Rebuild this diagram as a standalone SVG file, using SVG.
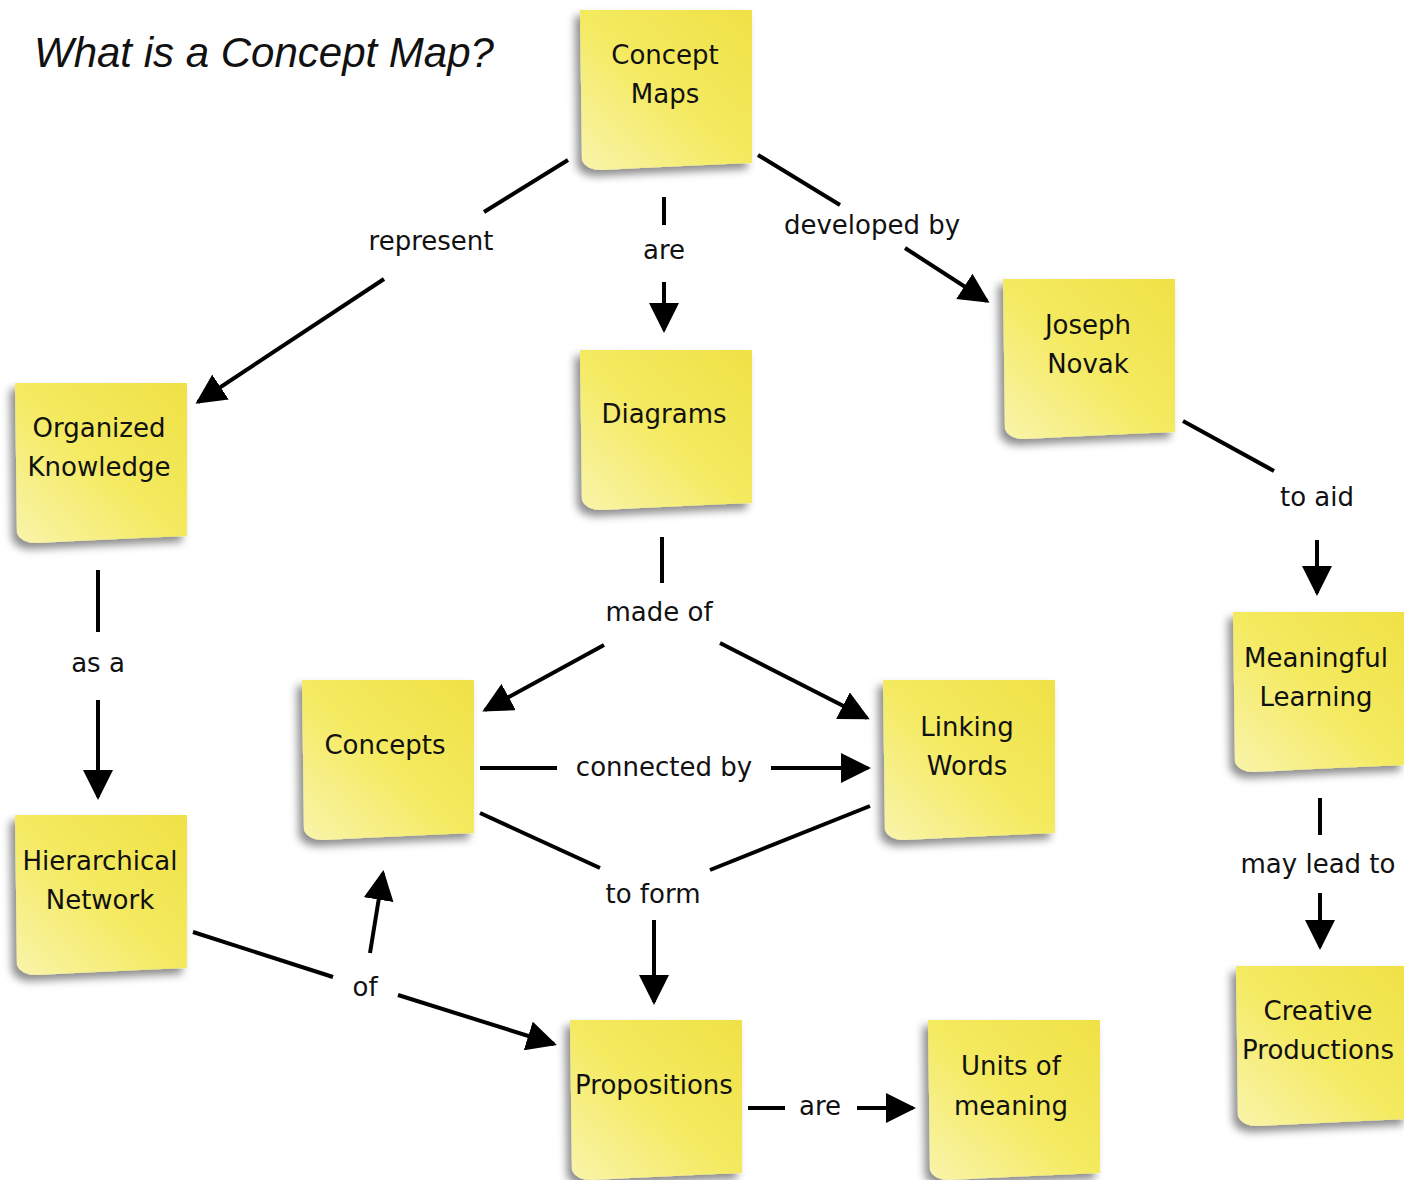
<svg xmlns="http://www.w3.org/2000/svg" xmlns:xlink="http://www.w3.org/1999/xlink" width="1404" height="1180" viewBox="0 0 1404 1180">
<style>
.nt{font-family:"DejaVu Sans","Liberation Sans",sans-serif;font-size:26px;fill:#111;text-anchor:middle}
.lb{font-family:"DejaVu Sans","Liberation Sans",sans-serif;font-size:26px;fill:#111;text-anchor:middle}
.ln{stroke:#000;stroke-width:4;fill:none}
.ar{marker-end:url(#ah)}
.title{font-family:"Liberation Sans",Arial,sans-serif;font-style:italic;font-size:42px;fill:#111}
</style>
<defs>
<linearGradient id="yg" x1="1" y1="0" x2="0" y2="1">
<stop offset="0" stop-color="#efe146"/>
<stop offset="0.5" stop-color="#f4ea60"/>
<stop offset="1" stop-color="#f9f4ac"/>
</linearGradient>
<filter id="sh" x="-20%" y="-20%" width="140%" height="140%">
<feDropShadow dx="-5" dy="6" stdDeviation="4" flood-color="#000" flood-opacity="0.45"/>
</filter>
<symbol id="note" overflow="visible">
<path d="M0,0 L172,0 L172,153 Q100,156 22,160 Q6,160 2,150 Z" fill="url(#yg)" filter="url(#sh)"/>
</symbol>
<marker id="ah" viewBox="0 0 10 10" refX="9" refY="5" markerWidth="7.5" markerHeight="7.5" orient="auto" markerUnits="strokeWidth">
<path d="M0,0 L10,5 L0,10 Z" fill="#000"/>
</marker>
</defs>
<rect width="1404" height="1180" fill="#fff"/>
<text class="title" x="34" y="67">What is a Concept Map?</text>

<g id="connectors">
<line class="ln" x1="568" y1="160" x2="484" y2="212"/>
<line class="ln ar" x1="384" y1="279" x2="198" y2="402"/>
<text class="lb" x="431" y="250">represent</text>

<line class="ln" x1="664" y1="197" x2="664" y2="225"/>
<line class="ln ar" x1="664" y1="282" x2="664" y2="330"/>
<text class="lb" x="664" y="259">are</text>

<line class="ln" x1="758" y1="155" x2="840" y2="205"/>
<line class="ln ar" x1="905" y1="248" x2="987" y2="301"/>
<text class="lb" x="872" y="234">developed by</text>

<line class="ln" x1="1183" y1="421" x2="1274" y2="471"/>
<line class="ln ar" x1="1317" y1="540" x2="1317" y2="593"/>
<text class="lb" x="1317" y="506">to aid</text>

<line class="ln" x1="1320" y1="798" x2="1320" y2="835"/>
<line class="ln ar" x1="1320" y1="893" x2="1320" y2="947"/>
<text class="lb" x="1318" y="873">may lead to</text>

<line class="ln" x1="98" y1="570" x2="98" y2="632"/>
<line class="ln ar" x1="98" y1="700" x2="98" y2="797"/>
<text class="lb" x="98" y="672">as a</text>

<line class="ln" x1="662" y1="537" x2="662" y2="583"/>
<line class="ln ar" x1="604" y1="645" x2="485" y2="710"/>
<line class="ln ar" x1="720" y1="643" x2="867" y2="718"/>
<text class="lb" x="659" y="621">made of</text>

<line class="ln" x1="480" y1="768" x2="557" y2="768"/>
<line class="ln ar" x1="771" y1="768" x2="868" y2="768"/>
<text class="lb" x="664" y="776">connected by</text>

<line class="ln" x1="480" y1="813" x2="600" y2="868"/>
<line class="ln" x1="870" y1="806" x2="710" y2="870"/>
<line class="ln ar" x1="654" y1="920" x2="654" y2="1002"/>
<text class="lb" x="653" y="903">to form</text>

<line class="ln" x1="193" y1="932" x2="333" y2="977"/>
<line class="ln ar" x1="398" y1="995" x2="554" y2="1044"/>
<line class="ln ar" x1="370" y1="953" x2="383" y2="873"/>
<text class="lb" x="365" y="996">of</text>

<line class="ln" x1="748" y1="1108" x2="785" y2="1108"/>
<line class="ln ar" x1="857" y1="1108" x2="913" y2="1108"/>
<text class="lb" x="820" y="1115">are</text>
</g>

<g id="n-concept-maps" transform="translate(580,10)">
<use xlink:href="#note"/>
<text class="nt" x="85" y="54">Concept</text>
<text class="nt" x="85" y="93">Maps</text>
</g>
<g id="n-diagrams" transform="translate(580,350)">
<use xlink:href="#note"/>
<text class="nt" x="84" y="73">Diagrams</text>
</g>
<g id="n-joseph-novak" transform="translate(1003,279)">
<use xlink:href="#note"/>
<text class="nt" x="85" y="55">Joseph</text>
<text class="nt" x="85" y="94">Novak</text>
</g>
<g id="n-organized-knowledge" transform="translate(15,383)">
<use xlink:href="#note"/>
<text class="nt" x="84" y="54">Organized</text>
<text class="nt" x="84" y="93">Knowledge</text>
</g>
<g id="n-meaningful-learning" transform="translate(1233,612)">
<use xlink:href="#note"/>
<text class="nt" x="83" y="55">Meaningful</text>
<text class="nt" x="83" y="94">Learning</text>
</g>
<g id="n-concepts" transform="translate(302,680)">
<use xlink:href="#note"/>
<text class="nt" x="83" y="74">Concepts</text>
</g>
<g id="n-linking-words" transform="translate(883,680)">
<use xlink:href="#note"/>
<text class="nt" x="84" y="56">Linking</text>
<text class="nt" x="84" y="95">Words</text>
</g>
<g id="n-hierarchical-network" transform="translate(15,815)">
<use xlink:href="#note"/>
<text class="nt" x="85" y="55">Hierarchical</text>
<text class="nt" x="85" y="94">Network</text>
</g>
<g id="n-creative-productions" transform="translate(1236,966)">
<use xlink:href="#note"/>
<text class="nt" x="82" y="54">Creative</text>
<text class="nt" x="82" y="93">Productions</text>
</g>
<g id="n-propositions" transform="translate(570,1020)">
<use xlink:href="#note"/>
<text class="nt" x="84" y="74">Propositions</text>
</g>
<g id="n-units-of-meaning" transform="translate(928,1020)">
<use xlink:href="#note"/>
<text class="nt" x="83" y="55">Units of</text>
<text class="nt" x="83" y="95">meaning</text>
</g>
</svg>
